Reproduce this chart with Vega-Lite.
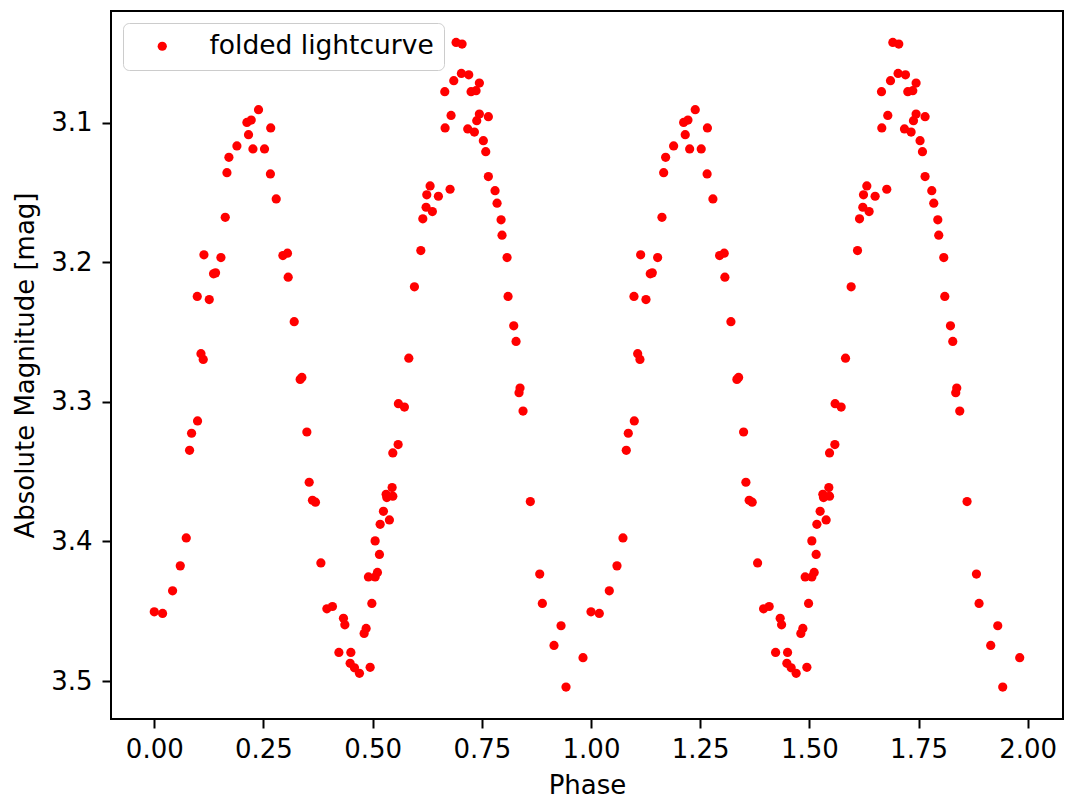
{
"$schema": "https://vega.github.io/schema/vega-lite/v6.json",
"width": 952, "height": 708,
"autosize": {"type": "none"},
"padding": {"left": 111, "top": 11, "right": 2, "bottom": 83},
"background": "white",
"config": {
  "font": "DejaVu Sans",
  "view": {"stroke": "black", "strokeWidth": 2},
  "axis": {"grid": false, "domain": false, "tickColor": "black", "tickWidth": 2, "tickSize": 9,
           "labelFont": "DejaVu Sans", "labelFontSize": 26, "labelColor": "black",
           "titleFont": "DejaVu Sans", "titleFontSize": 26, "titleColor": "black", "titleFontWeight": "normal"},
  "legend": {"labelFont": "DejaVu Sans", "labelFontSize": 26.5, "labelColor": "black", "labelLimit": 0}
},
"data": {"values": [
{"p":0.0,"m":3.4504},{"p":0.019,"m":3.4516},{"p":0.0419,"m":3.4354},{"p":0.0595,"m":3.4175},{"p":0.0732,"m":3.3975},{"p":0.0808,"m":3.3347},{"p":0.0854,"m":3.3225},{"p":0.0991,"m":3.3137},{"p":0.0984,"m":3.2245},{"p":0.1069,"m":3.2655},{"p":0.1121,"m":3.2696},{"p":0.1137,"m":3.1947},{"p":0.1259,"m":3.2267},{"p":0.1357,"m":3.2083},{"p":0.1403,"m":3.2076},{"p":0.1526,"m":3.1966},{"p":0.1625,"m":3.1678},{"p":0.1664,"m":3.1358},{"p":0.1709,"m":3.1248},{"p":0.1892,"m":3.1167},{"p":0.2121,"m":3.0998},{"p":0.2158,"m":3.1086},{"p":0.222,"m":3.0981},{"p":0.2259,"m":3.1188},{"p":0.2387,"m":3.0907},{"p":0.2524,"m":3.1188},{"p":0.2666,"m":3.1038},{"p":0.2659,"m":3.1367},{"p":0.2792,"m":3.1546},{"p":0.2945,"m":3.1952},{"p":0.305,"m":3.1935},{"p":0.3066,"m":3.2107},{"p":0.3204,"m":3.2426},{"p":0.338,"m":3.2825},{"p":0.3341,"m":3.2839},{"p":0.3494,"m":3.3216},{"p":0.3547,"m":3.3576},{"p":0.3622,"m":3.3705},{"p":0.3691,"m":3.3719},{"p":0.3815,"m":3.4154},{"p":0.3952,"m":3.4483},{"p":0.408,"m":3.4466},{"p":0.4332,"m":3.4551},{"p":0.4364,"m":3.4597},{"p":0.4227,"m":3.4795},{"p":0.4501,"m":3.4795},{"p":0.4485,"m":3.4873},{"p":0.4584,"m":3.4905},{"p":0.4698,"m":3.4945},{"p":0.4943,"m":3.4902},{"p":0.4982,"m":3.4444},{"p":0.4851,"m":3.4623},{"p":0.4805,"m":3.4659},{"p":0.4904,"m":3.4254},{"p":0.5057,"m":3.4254},{"p":0.511,"m":3.4222},{"p":0.5156,"m":3.4093},{"p":0.5057,"m":3.3996},{"p":0.5172,"m":3.3877},{"p":0.5247,"m":3.3784},{"p":0.5309,"m":3.3662},{"p":0.5325,"m":3.3686},{"p":0.5462,"m":3.3676},{"p":0.5384,"m":3.3846},{"p":0.5446,"m":3.3614},{"p":0.5462,"m":3.3366},{"p":0.5584,"m":3.3306},{"p":0.559,"m":3.3013},{"p":0.5728,"m":3.3037},{"p":0.5828,"m":3.2687},{"p":0.5957,"m":3.2176},{"p":0.6103,"m":3.1916},{"p":0.6149,"m":3.1689},{"p":0.6224,"m":3.1606},{"p":0.6368,"m":3.1637},{"p":0.624,"m":3.1517},{"p":0.6316,"m":3.1453},{"p":0.6506,"m":3.1527},{"p":0.6773,"m":3.1477},{"p":0.6659,"m":3.1038},{"p":0.6652,"m":3.0778},{"p":0.6796,"m":3.0948},{"p":0.6858,"m":3.0699},{"p":0.6911,"m":3.0425},{"p":0.7048,"m":3.0437},{"p":0.7032,"m":3.0647},{"p":0.7201,"m":3.0657},{"p":0.7444,"m":3.0716},{"p":0.7254,"m":3.0778},{"p":0.7368,"m":3.0771},{"p":0.7178,"m":3.1045},{"p":0.733,"m":3.1067},{"p":0.7384,"m":3.0986},{"p":0.7444,"m":3.0938},{"p":0.765,"m":3.0957},{"p":0.7535,"m":3.1129},{"p":0.759,"m":3.1208},{"p":0.765,"m":3.1386},{"p":0.7803,"m":3.1487},{"p":0.7849,"m":3.1577},{"p":0.7941,"m":3.1696},{"p":0.7963,"m":3.1806},{"p":0.8078,"m":3.1966},{"p":0.8101,"m":3.2245},{"p":0.8231,"m":3.2455},{"p":0.8284,"m":3.2567},{"p":0.8375,"m":3.2901},{"p":0.8352,"m":3.2934},{"p":0.8444,"m":3.3066},{"p":0.8611,"m":3.3714},{"p":0.8826,"m":3.4234},{"p":0.8886,"m":3.4444},{"p":0.9153,"m":3.4745},{"p":0.9314,"m":3.4604},{"p":0.9428,"m":3.5043},{"p":0.9817,"m":3.4833},
{"p":1.0,"m":3.4504},{"p":1.019,"m":3.4516},{"p":1.0419,"m":3.4354},{"p":1.0595,"m":3.4175},{"p":1.0732,"m":3.3975},{"p":1.0808,"m":3.3347},{"p":1.0854,"m":3.3225},{"p":1.0991,"m":3.3137},{"p":1.0984,"m":3.2245},{"p":1.1069,"m":3.2655},{"p":1.1121,"m":3.2696},{"p":1.1137,"m":3.1947},{"p":1.1259,"m":3.2267},{"p":1.1357,"m":3.2083},{"p":1.1403,"m":3.2076},{"p":1.1526,"m":3.1966},{"p":1.1625,"m":3.1678},{"p":1.1664,"m":3.1358},{"p":1.1709,"m":3.1248},{"p":1.1892,"m":3.1167},{"p":1.2121,"m":3.0998},{"p":1.2158,"m":3.1086},{"p":1.222,"m":3.0981},{"p":1.2259,"m":3.1188},{"p":1.2387,"m":3.0907},{"p":1.2524,"m":3.1188},{"p":1.2666,"m":3.1038},{"p":1.2659,"m":3.1367},{"p":1.2792,"m":3.1546},{"p":1.2945,"m":3.1952},{"p":1.305,"m":3.1935},{"p":1.3066,"m":3.2107},{"p":1.3204,"m":3.2426},{"p":1.338,"m":3.2825},{"p":1.3341,"m":3.2839},{"p":1.3494,"m":3.3216},{"p":1.3547,"m":3.3576},{"p":1.3622,"m":3.3705},{"p":1.3691,"m":3.3719},{"p":1.3815,"m":3.4154},{"p":1.3952,"m":3.4483},{"p":1.408,"m":3.4466},{"p":1.4332,"m":3.4551},{"p":1.4364,"m":3.4597},{"p":1.4227,"m":3.4795},{"p":1.4501,"m":3.4795},{"p":1.4485,"m":3.4873},{"p":1.4584,"m":3.4905},{"p":1.4698,"m":3.4945},{"p":1.4943,"m":3.4902},{"p":1.4982,"m":3.4444},{"p":1.4851,"m":3.4623},{"p":1.4805,"m":3.4659},{"p":1.4904,"m":3.4254},{"p":1.5057,"m":3.4254},{"p":1.511,"m":3.4222},{"p":1.5156,"m":3.4093},{"p":1.5057,"m":3.3996},{"p":1.5172,"m":3.3877},{"p":1.5247,"m":3.3784},{"p":1.5309,"m":3.3662},{"p":1.5325,"m":3.3686},{"p":1.5462,"m":3.3676},{"p":1.5384,"m":3.3846},{"p":1.5446,"m":3.3614},{"p":1.5462,"m":3.3366},{"p":1.5584,"m":3.3306},{"p":1.559,"m":3.3013},{"p":1.5728,"m":3.3037},{"p":1.5828,"m":3.2687},{"p":1.5957,"m":3.2176},{"p":1.6103,"m":3.1916},{"p":1.6149,"m":3.1689},{"p":1.6224,"m":3.1606},{"p":1.6368,"m":3.1637},{"p":1.624,"m":3.1517},{"p":1.6316,"m":3.1453},{"p":1.6506,"m":3.1527},{"p":1.6773,"m":3.1477},{"p":1.6659,"m":3.1038},{"p":1.6652,"m":3.0778},{"p":1.6796,"m":3.0948},{"p":1.6858,"m":3.0699},{"p":1.6911,"m":3.0425},{"p":1.7048,"m":3.0437},{"p":1.7032,"m":3.0647},{"p":1.7201,"m":3.0657},{"p":1.7444,"m":3.0716},{"p":1.7254,"m":3.0778},{"p":1.7368,"m":3.0771},{"p":1.7178,"m":3.1045},{"p":1.733,"m":3.1067},{"p":1.7384,"m":3.0986},{"p":1.7444,"m":3.0938},{"p":1.765,"m":3.0957},{"p":1.7535,"m":3.1129},{"p":1.759,"m":3.1208},{"p":1.765,"m":3.1386},{"p":1.7803,"m":3.1487},{"p":1.7849,"m":3.1577},{"p":1.7941,"m":3.1696},{"p":1.7963,"m":3.1806},{"p":1.8078,"m":3.1966},{"p":1.8101,"m":3.2245},{"p":1.8231,"m":3.2455},{"p":1.8284,"m":3.2567},{"p":1.8375,"m":3.2901},{"p":1.8352,"m":3.2934},{"p":1.8444,"m":3.3066},{"p":1.8611,"m":3.3714},{"p":1.8826,"m":3.4234},{"p":1.8886,"m":3.4444},{"p":1.9153,"m":3.4745},{"p":1.9314,"m":3.4604},{"p":1.9428,"m":3.5043},{"p":1.9817,"m":3.4833}
]},
"mark": {"type": "circle", "size": 85, "opacity": 1},
"encoding": {
  "x": {"field": "p", "type": "quantitative", "title": "Phase",
        "scale": {"domain": [-0.0991, 2.0808], "nice": false, "zero": false},
        "axis": {"values": [0, 0.25, 0.5, 0.75, 1, 1.25, 1.5, 1.75, 2], "format": ".2f", "labelPadding": 8, "titlePadding": 10, "labelFlush": false}},
  "y": {"field": "m", "type": "quantitative", "title": "Absolute Magnitude [mag]",
        "scale": {"domain": [3.0200, 3.5272], "reverse": true, "nice": false, "zero": false},
        "axis": {"values": [3.1, 3.2, 3.3, 3.4, 3.5], "format": ".1f", "labelPadding": 10, "titlePadding": 12, "labelFlush": false}},
  "color": {"datum": "folded lightcurve", "type": "nominal",
            "scale": {"range": ["#ff0000"]},
            "legend": {"title": null, "orient": "none", "legendX": 12, "legendY": 12,
                       "padding": 10, "symbolOffset": 16, "labelOffset": 34, "symbolSize": 85, "labelLimit": 400,
                       "symbolType": "circle", "symbolStrokeWidth": 0,
                       "strokeColor": "#cccccc", "cornerRadius": 6, "fillColor": "rgba(255,255,255,0.8)"}}
}
}
